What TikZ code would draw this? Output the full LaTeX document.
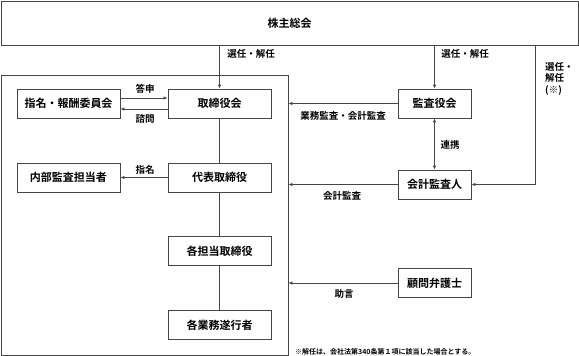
\documentclass[tikz,border=0pt]{standalone}
\usepackage{fontspec}
\setmainfont{Noto Sans CJK JP}[BoldFont={* Bold}]
\usetikzlibrary{arrows.meta}
\definecolor{ln}{RGB}{70,70,70}
\begin{document}
\begin{tikzpicture}[x=1pt,y=-1pt,
  box/.style={draw=ln,line width=0.8pt,minimum height=29pt,inner sep=0pt,font=\fontsize{11}{13}\selectfont\bfseries},
  wbox/.style={box,minimum width=103pt},
  nbox/.style={box,minimum width=73pt},
  lbl/.style={font=\fontsize{9.5}{12}\selectfont\bfseries,inner sep=0pt},
  ln/.style={draw=ln,line width=0.8pt},
  arr/.style={ln,-{Latex[length=4pt,width=3.5pt]}},
  darr/.style={ln,{Latex[length=4pt,width=3.5pt]}-{Latex[length=4pt,width=3.5pt]}}]
\useasboundingbox (0,0) rectangle (579,356);
\node[box,minimum width=577pt,minimum height=44pt] (gm) at (289.5,23) {株主総会};
\node[draw=ln,line width=0.8pt,minimum width=287pt,minimum height=280pt,inner sep=0pt] (frame) at (144.5,215) {};
\node[wbox] (nomi) at (68.5,103.5) {指名・報酬委員会};
\node[wbox] (bod) at (219.5,103.5) {取締役会};
\node[wbox] (naibu) at (68.5,177.5) {内部監査担当者};
\node[wbox] (daihyo) at (219.5,177.5) {代表取締役};
\node[wbox] (kakutan) at (219.5,251) {各担当取締役};
\node[wbox] (gyomu) at (219.5,325) {各業務遂行者};
\node[nbox] (kansa) at (434.5,103.5) {監査役会};
\node[nbox] (kaikei) at (434.5,184.5) {会計監査人};
\node[nbox] (komon) at (434.5,283) {顧問弁護士};
\coordinate (rc) at (535,45);
% connectors
\draw[arr] (gm.south -| bod.north) -- (bod.north);
\draw[arr] (gm.south -| kansa.north) -- (kansa.north);
\draw[arr] (rc) |- (kaikei.east);
\draw[arr] ([yshift=5.5pt]nomi.east) -- ([yshift=5.5pt]bod.west);
\draw[arr] ([yshift=-5.5pt]bod.west) -- ([yshift=-5.5pt]nomi.east);
\draw[arr] (daihyo.west) -- (naibu.east);
\draw[ln] (bod) -- (daihyo) -- (kakutan) -- (gyomu);
\draw[arr] (kansa.west) -- (kansa.west -| frame.east);
\draw[darr] (kansa.south) -- (kaikei.north);
\draw[arr] (kaikei.west) -- (kaikei.west -| frame.east);
\draw[arr] (komon.west) -- (komon.west -| frame.east);
% labels
\node[lbl] (l1) at (251,54) {選任・解任};
\node[lbl] (l2) at (465,54) {選任・解任};
\node[lbl,align=left,anchor=north west,font=\fontsize{9.5}{11.5}\selectfont\bfseries] (l3) at (545,62) {選任・\\解任\\(※)};
\node[lbl] (l4) at (145,89) {答申};
\node[lbl] (l5) at (145,119) {諮問};
\node[lbl] (l6) at (145,169.5) {指名};
\node[lbl] (l7) at (343,116) {業務監査・会計監査};
\node[lbl] (l8) at (450,145) {連携};
\node[lbl] (l9) at (342,196) {会計監査};
\node[lbl] (l10) at (344,294) {助言};
\node[lbl,anchor=west,font=\fontsize{7}{8}\selectfont\bfseries] (fn) at (295,351.5) {※解任は、会社法第340条第１項に該当した場合とする。};
\end{tikzpicture}
\end{document}
